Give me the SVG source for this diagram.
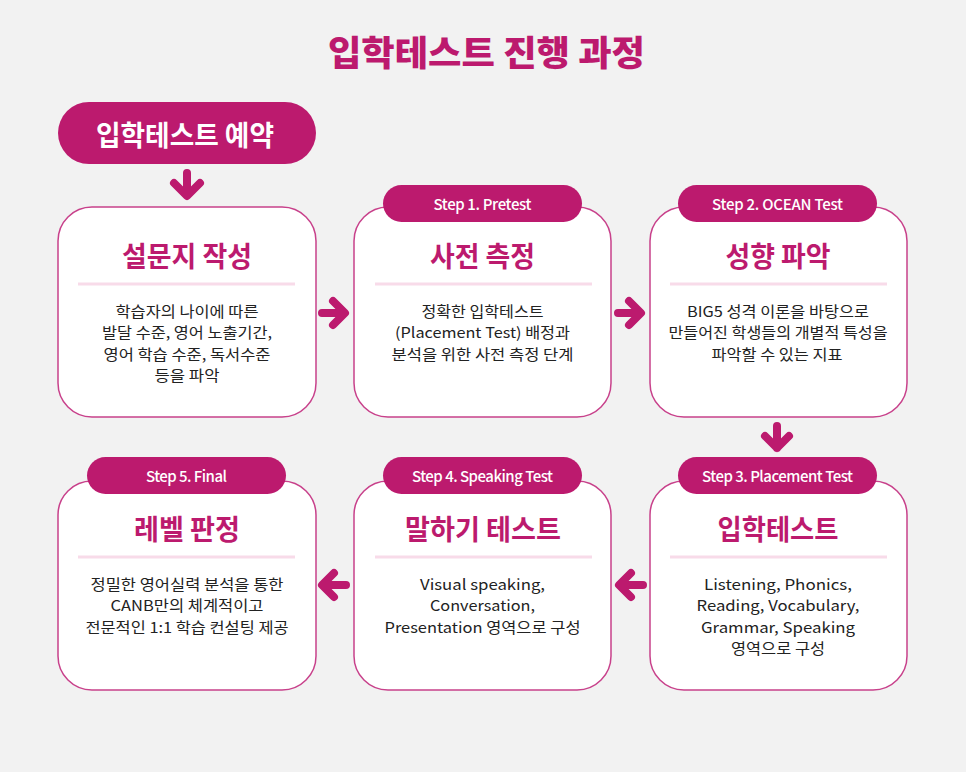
<svg xmlns="http://www.w3.org/2000/svg" width="966" height="772" viewBox="0 0 966 772">
<defs>
<style>
text{font-family:"Noto Sans CJK KR","Noto Sans",sans-serif;text-anchor:middle;dominant-baseline:central}
.title{font-size:35px;font-weight:900;fill:#bc1a6e}
.pill{fill:#bc1a6e}
.pilltxt{font-size:28px;font-weight:700;fill:#fff}
.box{fill:#fff;stroke:#c8418b;stroke-width:1.5}
.step{font-size:15px;font-weight:500;fill:#fff}
.head{font-size:28px;font-weight:700;fill:#bc1a6e}
.div{stroke:#f8dbe9;stroke-width:3}
.body{font-size:14.8px;font-weight:400;fill:#222}
.arr{fill:none;stroke:#bc1a6e;stroke-width:8;stroke-linecap:round;stroke-linejoin:round}
</style>
</defs>
<rect width="966" height="772" fill="#f2f2f2"/>
<text class="title" x="486.5" y="50" textLength="317" lengthAdjust="spacingAndGlyphs">입학테스트 진행 과정</text>

<g id="start">
<rect class="pill" x="58" y="102" width="258" height="62" rx="31"/>
<text class="pilltxt" x="185" y="134" textLength="178" lengthAdjust="spacingAndGlyphs">입학테스트 예약</text>
</g>

<g id="node1">
<rect class="box" x="58" y="207" width="258" height="210" rx="34"/>
<text class="head" x="187" y="255" textLength="130" lengthAdjust="spacingAndGlyphs">설문지 작성</text>
<line class="div" x1="78" y1="284" x2="295" y2="284"/>
<text class="body" x="187" y="310" textLength="143" lengthAdjust="spacingAndGlyphs">학습자의 나이에 따른</text>
<text class="body" x="187" y="331.5" textLength="170" lengthAdjust="spacingAndGlyphs">발달 수준, 영어 노출기간,</text>
<text class="body" x="187" y="353" textLength="167" lengthAdjust="spacingAndGlyphs">영어 학습 수준, 독서수준</text>
<text class="body" x="187" y="374.5" textLength="65" lengthAdjust="spacingAndGlyphs">등을 파악</text>
</g>

<g id="node2">
<rect class="box" x="354" y="207" width="257" height="210" rx="34"/>
<rect class="pill" x="383" y="185" width="199" height="37" rx="18.5"/>
<text class="step" x="482.5" y="203.5" textLength="98">Step 1. Pretest</text>
<text class="head" x="482.5" y="255" textLength="105" lengthAdjust="spacingAndGlyphs">사전 측정</text>
<line class="div" x1="375" y1="284" x2="592" y2="284"/>
<text class="body" x="482.5" y="310" textLength="122" lengthAdjust="spacingAndGlyphs">정확한 입학테스트</text>
<text class="body" x="482.5" y="331.5" textLength="175" lengthAdjust="spacingAndGlyphs">(Placement Test) 배정과</text>
<text class="body" x="482.5" y="353" textLength="182" lengthAdjust="spacingAndGlyphs">분석을 위한 사전 측정 단계</text>
</g>

<g id="node3">
<rect class="box" x="650" y="207" width="257" height="210" rx="34"/>
<rect class="pill" x="678" y="185" width="199" height="37" rx="18.5"/>
<text class="step" x="777.5" y="203.5" textLength="131">Step 2. OCEAN Test</text>
<text class="head" x="778" y="255" textLength="105" lengthAdjust="spacingAndGlyphs">성향 파악</text>
<line class="div" x1="670" y1="284" x2="887" y2="284"/>
<text class="body" x="778" y="310" textLength="182" lengthAdjust="spacingAndGlyphs">BIG5 성격 이론을 바탕으로</text>
<text class="body" x="778" y="331.5" textLength="219" lengthAdjust="spacingAndGlyphs">만들어진 학생들의 개별적 특성을</text>
<text class="body" x="777" y="353" textLength="131" lengthAdjust="spacingAndGlyphs">파악할 수 있는 지표</text>
</g>

<g id="node4">
<rect class="box" x="650" y="481" width="257" height="209" rx="34"/>
<rect class="pill" x="678" y="457" width="199" height="37" rx="18.5"/>
<text class="step" x="777.5" y="475.5" textLength="151">Step 3. Placement Test</text>
<text class="head" x="778" y="528" textLength="121" lengthAdjust="spacingAndGlyphs">입학테스트</text>
<line class="div" x1="670" y1="557" x2="887" y2="557"/>
<text class="body" x="778" y="583" textLength="148" lengthAdjust="spacingAndGlyphs">Listening, Phonics,</text>
<text class="body" x="778" y="604.5" textLength="163" lengthAdjust="spacingAndGlyphs">Reading, Vocabulary,</text>
<text class="body" x="778" y="626" textLength="154" lengthAdjust="spacingAndGlyphs">Grammar, Speaking</text>
<text class="body" x="778" y="647.5" textLength="94" lengthAdjust="spacingAndGlyphs">영역으로 구성</text>
</g>

<g id="node5">
<rect class="box" x="354" y="481" width="257" height="209" rx="34"/>
<rect class="pill" x="383" y="457" width="199" height="37" rx="18.5"/>
<text class="step" x="482.5" y="475.5" textLength="141">Step 4. Speaking Test</text>
<text class="head" x="483" y="528" textLength="156" lengthAdjust="spacingAndGlyphs">말하기 테스트</text>
<line class="div" x1="375" y1="557" x2="592" y2="557"/>
<text class="body" x="482.5" y="583" textLength="125" lengthAdjust="spacingAndGlyphs">Visual speaking,</text>
<text class="body" x="482.5" y="604.5" textLength="105" lengthAdjust="spacingAndGlyphs">Conversation,</text>
<text class="body" x="482.5" y="626" textLength="196" lengthAdjust="spacingAndGlyphs">Presentation 영역으로 구성</text>
</g>

<g id="node6">
<rect class="box" x="58" y="481" width="258" height="209" rx="34"/>
<rect class="pill" x="87" y="457" width="199" height="37" rx="18.5"/>
<text class="step" x="186.5" y="475.5" textLength="81">Step 5. Final</text>
<text class="head" x="187" y="528" textLength="106" lengthAdjust="spacingAndGlyphs">레벨 판정</text>
<line class="div" x1="78" y1="557" x2="295" y2="557"/>
<text class="body" x="187" y="583" textLength="193" lengthAdjust="spacingAndGlyphs">정밀한 영어실력 분석을 통한</text>
<text class="body" x="187" y="604.5" textLength="153" lengthAdjust="spacingAndGlyphs">CANB만의 체계적이고</text>
<text class="body" x="187" y="626" textLength="203" lengthAdjust="spacingAndGlyphs">전문적인 1:1 학습 컨설팅 제공</text>
</g>

<g id="connectors">
<path class="arr" d="M187 173V195M174 183L187 196L200 183"/>
<path class="arr" d="M322 313H344M333 301L345 313L333 325"/>
<path class="arr" d="M618 313H640M629 301L641 313L629 325"/>
<path class="arr" d="M777 426V448M765 436L777 448L789 436"/>
<path class="arr" d="M643 585H621M631 573L619 585L631 597"/>
<path class="arr" d="M346 585H324M334 573L322 585L334 597"/>
</g>
</svg>
